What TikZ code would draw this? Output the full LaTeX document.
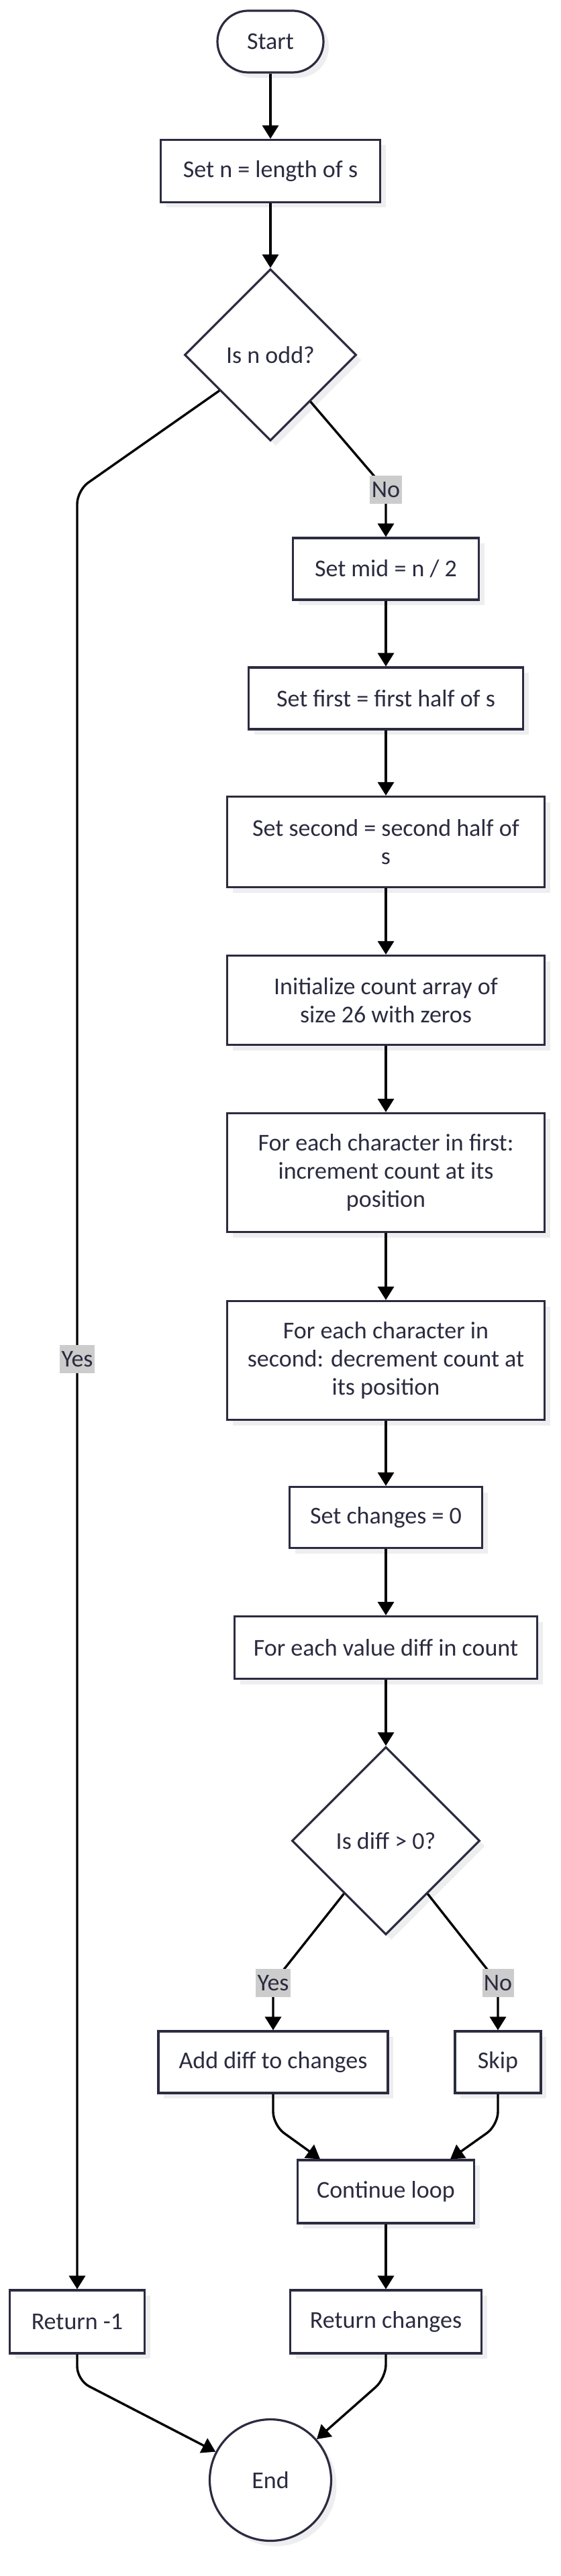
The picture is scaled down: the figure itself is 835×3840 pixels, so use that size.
\documentclass[tikz,border=0pt]{standalone}
\usepackage{fontspec}
\setmainfont{Carlito}
\usetikzlibrary{shapes.geometric,arrows.meta,shadows}
\definecolor{ink}{HTML}{2B2B40}
\definecolor{shade}{HTML}{EEEEF0}

\begin{document}
\begin{tikzpicture}[x=0.25pt,y=-0.25pt,
    font=\fontsize{9}{10.5}\selectfont,
    every node/.style={text=ink},
    boxnode/.style={draw=ink,line width=0.8pt,fill=white,align=center,inner sep=0pt,
      drop shadow={shadow xshift=2pt,shadow yshift=-2pt,fill=shade,opacity=1}},
    decision/.style={boxnode,diamond,aspect=1},
    flow/.style={-{Triangle[length=5pt,width=6pt]},line width=0.85pt,rounded corners=5pt},
    lbl/.style={fill=gray!40,sharp corners,inner xsep=0.6pt,inner ysep=0pt,minimum height=10.5pt}]
    \path[use as bounding box,fill=white] (0,0) rectangle (835,3840);
    % top part
    \node[boxnode,rounded corners=11.5pt,minimum width=39.5pt,minimum height=23pt] (start) at (403,62) {Start};
    \node[boxnode,minimum width=81.75pt,minimum height=23.25pt] (setn) at (403,255) {Set n = length of s};
    \node[decision,minimum width=64pt,minimum height=64pt] (odd) at (403,529) {Is n odd?};
    % main column
    \node[boxnode,minimum width=69.25pt,minimum height=23pt] (mid) at (575,848) {Set mid = n / 2};
    \node[boxnode,minimum width=102.25pt,minimum height=23pt] (first) at (575,1041) {Set first = first half of s};
    \node[boxnode,minimum width=118.25pt,minimum height=33.75pt] (second) at (575,1255)
      {Set second = second half of\\s};
    \node[boxnode,minimum width=118.25pt,minimum height=33.25pt] (init) at (575,1491)
      {Initialize count array of\\size 26 with zeros};
    \node[boxnode,minimum width=118.25pt,minimum height=44.25pt] (incr) at (575,1748)
      {For each character in first:\\increment count at its\\position};
    \node[boxnode,minimum width=118.25pt,minimum height=44.25pt] (decr) at (575,2028)
      {For each character in\\second: decrement count at\\its position};
    \node[boxnode,minimum width=71.75pt,minimum height=22.75pt] (chg) at (575,2262) {Set changes = 0};
    \node[boxnode,minimum width=112.75pt,minimum height=23.25pt] (each) at (575,2456) {For each value diff in count};
    \node[decision,minimum width=70pt,minimum height=70pt] (diff) at (575,2744) {Is diff > 0?};
    \node[boxnode,minimum width=85.5pt,minimum height=23pt] (add) at (407,3074) {Add diff to changes};
    \node[boxnode,minimum width=32pt,minimum height=23pt] (skip) at (742,3074) {Skip};
    \node[boxnode,minimum width=65.75pt,minimum height=23.5pt] (cont) at (575,3267) {Continue loop};
    % bottom part
    \node[boxnode,minimum width=50.25pt,minimum height=23.5pt] (ret1) at (115,3461) {Return -1};
    \node[boxnode,minimum width=71.25pt,minimum height=23.5pt] (retc) at (575,3461) {Return changes};
    \node[boxnode,circle,minimum size=45.25pt] (end) at (403,3697) {End};
    % bends
    \coordinate (oddyes) at (115,731);
    \coordinate (oddno) at (575,730);
    \coordinate (diffyes) at (407,2956);
    \coordinate (diffno) at (742,2956);
    \coordinate (addbend) at (407,3168);
    \coordinate (skipbend) at (742,3168);
    \coordinate (ret1bend) at (115,3548);
    \coordinate (retcbend) at (575,3545);
    % connectors
    \draw[flow] (start) -- (setn);
    \draw[flow] (setn) -- (odd);
    \draw[flow] (odd) -- (oddyes) -- node[lbl,pos=0.483] {Yes} (ret1);
    \draw[flow] (odd) -- (oddno) node[lbl] {No} -- (mid);
    \draw[flow] (mid) -- (first);
    \draw[flow] (first) -- (second);
    \draw[flow] (second) -- (init);
    \draw[flow] (init) -- (incr);
    \draw[flow] (incr) -- (decr);
    \draw[flow] (decr) -- (chg);
    \draw[flow] (chg) -- (each);
    \draw[flow] (each) -- (diff);
    \draw[flow] (diff) -- (diffyes) node[lbl] {Yes} -- (add);
    \draw[flow] (diff) -- (diffno) node[lbl] {No} -- (skip);
    \draw[flow] (add) -- (addbend) -- ([xshift=-24.5pt]cont.north);
    \draw[flow] (skip) -- (skipbend) -- ([xshift=24pt]cont.north);
    \draw[flow] (cont) -- (retc);
    \draw[flow] (ret1) -- (ret1bend) -- (end);
    \draw[flow] (retc) -- (retcbend) -- (end);
  \end{tikzpicture}
\end{document}
